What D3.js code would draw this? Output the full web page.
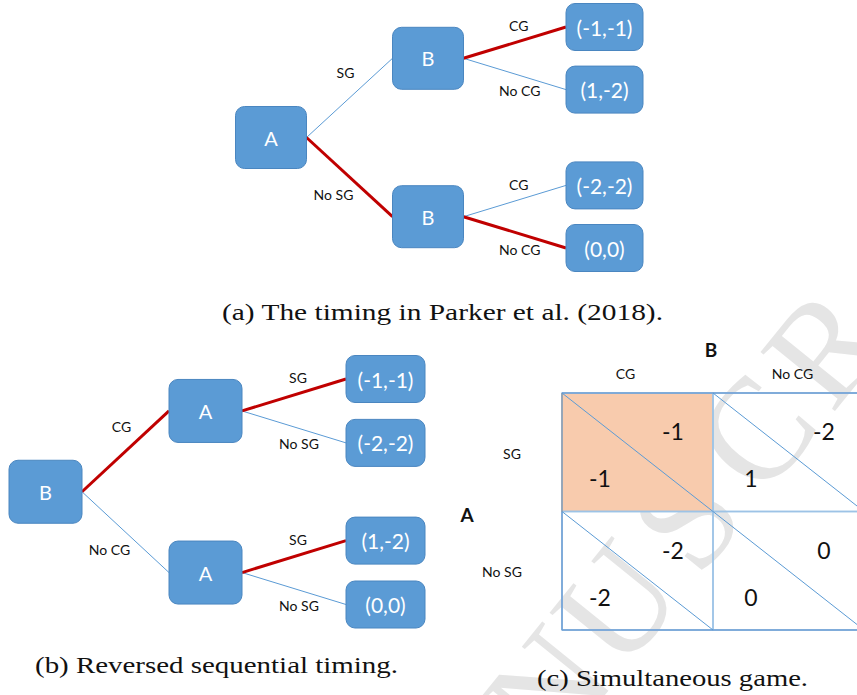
<!DOCTYPE html>
<html>
<head>
<meta charset="utf-8">
<script src="https://cdn.jsdelivr.net/npm/d3@7"></script>
<style>
  html, body { margin: 0; padding: 0; background: #fff; }
  svg { display: block; }
</style>
</head>
<body>
<svg id="chart" width="857" height="695"></svg>
<script>
// ---------- DATA ----------
// (a) Parker et al. timing: A moves first (SG / No SG), then B (CG / No CG)
const treeA_root = "A";
const treeA_mid = ["B", "B"];
const treeA_firstMoves = ["SG", "No SG"];
const treeA_secondMoves = ["CG", "No CG"];
const treeA_payoffs = [["(-1,-1)", "(1,-2)"], ["(-2,-2)", "(0,0)"]];
const treeA_firstChosen = [false, true];
const treeA_secondChosen = [[true, false], [false, true]];

// (b) Reversed sequential timing: B moves first (CG / No CG), then A (SG / No SG)
const treeB_root = "B";
const treeB_mid = ["A", "A"];
const treeB_firstMoves = ["CG", "No CG"];
const treeB_secondMoves = ["SG", "No SG"];
const treeB_payoffs = [["(-1,-1)", "(-2,-2)"], ["(1,-2)", "(0,0)"]];
const treeB_firstChosen = [true, false];
const treeB_secondChosen = [[true, false], [true, false]];

// (c) Simultaneous game
const rowPlayer = "A";
const colPlayer = "B";
const rowStrategies = ["SG", "No SG"];
const colStrategies = ["CG", "No CG"];
const payoffA = [[-1, 1], [-2, 0]];   // lower-left number in each cell
const payoffB = [[-1, -2], [-2, 0]];  // upper-right number in each cell
const equilibrium = [[true, false], [false, false]];

const captions = ["(a) The timing in Parker et al. (2018).", "(b) Reversed sequential timing.", "(c) Simultaneous game."];
const watermark = "ACCEPTED MANUSCRIPT";

// ---------- DRAW ----------
const svg = d3.select("#chart");
const NODE_FILL = "#5b9bd5", NODE_STROKE = "#4a86c0";
const BLUE = "#5b9bd5", RED = "#c00000";
const SANS = "Lato, 'Open Sans', sans-serif";
const SERIF = "'Liberation Serif', 'DejaVu Serif', serif";

// watermark (drawn first, behind); only the letters that fall on the page
const wm = svg.append("g").attr("class", "watermark");
{
  const letters = watermark.split("");
  const idxU = letters.indexOf("U", 10);
  const deg = -51;
  const ang = deg * Math.PI / 180;
  const step = 110;
  const ux = 615, uy = 602;
  letters.forEach((ch, i) => {
    if (ch === " ") return;
    const k = i - idxU;
    const cx = ux + Math.cos(ang) * step * k, cy = uy + Math.sin(ang) * step * k;
    if (cx < -20 || cx > 880 || cy < -20 || cy > 700) return;
    wm.append("text")
      .attr("transform", `translate(${cx},${cy}) rotate(${deg})`)
      .attr("text-anchor", "middle").attr("dy", "0.35em")
      .attr("font-family", SERIF).attr("font-size", 145)
      .attr("fill", "#e5e5e5")
      .text(ch);
  });
}

function drawTree(g, cfg) {
  const { root, mid, first, second, payoffs, firstChosen, secondChosen, xs, slotRange, yRange, sizes } = cfg;
  const gapSlots = 2.53;
  const y = d3.scaleLinear().domain(slotRange).range(yRange);
  const xd = d3.scaleLinear().domain([0, 1, 2]).range(xs);

  const leaves = [];
  payoffs.forEach((grp, gi) => grp.forEach((p, j) => {
    leaves.push({ label: p, gi, j, x: xd(2), y: y(gi * gapSlots + j) });
  }));
  const mids = mid.map((m, gi) => ({ label: m, gi, x: xd(1), y: d3.mean(leaves.filter(l => l.gi === gi), d => d.y) }));
  const rootN = { label: root, x: xd(0), y: d3.mean(mids, d => d.y) };

  const [rw, rh] = sizes.internal, [lw, lh] = sizes.leaf;

  const edges = [];
  mids.forEach((m, gi) => edges.push({ x1: rootN.x + rw / 2, y1: rootN.y, x2: m.x - rw / 2, y2: m.y, chosen: firstChosen[gi], label: first[gi], up: gi === 0, level: 1 }));
  leaves.forEach(l => {
    const m = mids[l.gi];
    edges.push({ x1: m.x + rw / 2, y1: m.y, x2: l.x - lw / 2, y2: l.y, chosen: secondChosen[l.gi][l.j], label: second[l.j], up: l.j === 0, level: 2 });
  });
  edges.sort((a, b) => a.chosen - b.chosen);
  g.selectAll("line.edge").data(edges).join("line")
    .attr("class", "edge")
    .attr("x1", d => d.x1).attr("y1", d => d.y1).attr("x2", d => d.x2).attr("y2", d => d.y2)
    .attr("stroke", d => d.chosen ? RED : BLUE)
    .attr("stroke-width", d => d.chosen ? 3 : 1);

  g.selectAll("text.elab").data(edges).join("text")
    .attr("class", "elab")
    .attr("x", d => {
      const mx = (d.x1 + d.x2) / 2;
      if (d.level === 1) return d.up ? mx - 4 : mx - 16;
      return d.up ? mx + 4 : mx + 5;
    })
    .attr("y", d => {
      const my = (d.y1 + d.y2) / 2;
      if (d.level === 1) return d.up ? my - 25 : my + 17;
      return d.up ? my - 17 : my + 17;
    })
    .attr("text-anchor", "middle").attr("dominant-baseline", "central")
    .attr("font-family", SANS).attr("font-size", 14).attr("fill", "#111")
    .text(d => d.label);

  const boxes = [
    { ...rootN, w: rw, h: rh, fs: 20 },
    ...mids.map(m => ({ ...m, w: rw, h: rh, fs: 20 })),
    ...leaves.map(l => ({ ...l, w: lw, h: lh, fs: 21 }))
  ];
  const nodeG = g.selectAll("g.node").data(boxes).join("g").attr("class", "node")
    .attr("transform", d => `translate(${d.x},${d.y})`);
  nodeG.append("rect")
    .attr("x", d => -d.w / 2).attr("y", d => -d.h / 2)
    .attr("width", d => d.w).attr("height", d => d.h)
    .attr("rx", 9).attr("ry", 9)
    .attr("fill", NODE_FILL).attr("stroke", NODE_STROKE).attr("stroke-width", 1);
  nodeG.append("text")
    .attr("text-anchor", "middle").attr("dominant-baseline", "central")
    .attr("font-family", SANS).attr("font-size", d => d.fs).attr("fill", "#fff")
    .text(d => d.label);
}

drawTree(svg.append("g"), {
  root: treeA_root, mid: treeA_mid, first: treeA_firstMoves, second: treeA_secondMoves,
  payoffs: treeA_payoffs, firstChosen: treeA_firstChosen, secondChosen: treeA_secondChosen,
  xs: [271, 428, 604.5], slotRange: [0, 3.53], yRange: [27, 248],
  sizes: { internal: [71, 62], leaf: [77, 47] }
});
drawTree(svg.append("g"), {
  root: treeB_root, mid: treeB_mid, first: treeB_firstMoves, second: treeB_secondMoves,
  payoffs: treeB_payoffs, firstChosen: treeB_firstChosen, secondChosen: treeB_secondChosen,
  xs: [45.5, 205.5, 385.5], slotRange: [0, 3.53], yRange: [379, 604.5],
  sizes: { internal: [73, 63], leaf: [79, 47] }
});

// ---------- (c) payoff matrix ----------
const mg = svg.append("g");
const cx = d3.scaleBand().domain(colStrategies).range([562, 864]);
const ry = d3.scaleBand().domain(rowStrategies).range([393, 630]);
const cells = [];
rowStrategies.forEach((r, i) => colStrategies.forEach((c, j) => cells.push({ r, c, i, j, a: payoffA[i][j], b: payoffB[i][j], eq: equilibrium[i][j] })));
mg.selectAll("rect.cell").data(cells).join("rect")
  .attr("class", "cell")
  .attr("x", d => cx(d.c)).attr("y", d => ry(d.r))
  .attr("width", cx.bandwidth()).attr("height", ry.bandwidth())
  .attr("fill", d => d.eq ? "#f8cbad" : "none")
  .attr("stroke", "#9dc3e6").attr("stroke-width", 1.5);
mg.append("line").attr("x1", 562).attr("x2", 864).attr("y1", 393).attr("y2", 393).attr("stroke", "#6f9fd4").attr("stroke-width", 1.5);
mg.append("line").attr("x1", 562).attr("x2", 864).attr("y1", 630).attr("y2", 630).attr("stroke", "#6f9fd4").attr("stroke-width", 1.5);
mg.append("line").attr("x1", 562).attr("x2", 562).attr("y1", 393).attr("y2", 512).attr("stroke", "#8c9aab").attr("stroke-width", 1.5);
mg.append("line").attr("x1", 562).attr("x2", 562).attr("y1", 512).attr("y2", 630).attr("stroke", "#6f9fd4").attr("stroke-width", 1.5);
mg.selectAll("line.diag").data(cells).join("line")
  .attr("class", "diag")
  .attr("x1", d => cx(d.c)).attr("y1", d => ry(d.r))
  .attr("x2", d => cx(d.c) + cx.bandwidth()).attr("y2", d => ry(d.r) + ry.bandwidth())
  .attr("stroke", "#5b9bd5").attr("stroke-width", 1);
mg.selectAll("text.pb").data(cells).join("text")
  .attr("class", "pb")
  .attr("x", d => cx(d.c) + 111).attr("y", d => ry(d.r) + 38)
  .attr("text-anchor", "middle").attr("dominant-baseline", "central")
  .attr("font-family", SANS).attr("font-size", 23).attr("fill", "#111")
  .text(d => d.b);
mg.selectAll("text.pa").data(cells).join("text")
  .attr("class", "pa")
  .attr("x", d => cx(d.c) + 38).attr("y", d => ry(d.r) + 85)
  .attr("text-anchor", "middle").attr("dominant-baseline", "central")
  .attr("font-family", SANS).attr("font-size", 23).attr("fill", "#111")
  .text(d => d.a);
mg.selectAll("text.col").data(colStrategies).join("text")
  .attr("x", (d, i) => cx(d) + cx.bandwidth() / 2 + (i === 0 ? -12 : 4)).attr("y", 373)
  .attr("text-anchor", "middle").attr("dominant-baseline", "central")
  .attr("font-family", SANS).attr("font-size", 14).attr("fill", "#111").text(d => d);
mg.selectAll("text.row").data(rowStrategies).join("text")
  .attr("x", (d, i) => i === 0 ? 512 : 502).attr("y", d => ry(d) + ry.bandwidth() / 2 + 1)
  .attr("text-anchor", "middle").attr("dominant-baseline", "central")
  .attr("font-family", SANS).attr("font-size", 14).attr("fill", "#111").text(d => d);
mg.append("text").attr("x", 711).attr("y", 349).attr("text-anchor", "middle").attr("dominant-baseline", "central")
  .attr("font-family", SANS).attr("font-weight", "bold").attr("font-size", 19).attr("fill", "#111").text(colPlayer);
mg.append("text").attr("x", 467).attr("y", 514).attr("text-anchor", "middle").attr("dominant-baseline", "central")
  .attr("font-family", SANS).attr("font-weight", "bold").attr("font-size", 19).attr("fill", "#111").text(rowPlayer);

// ---------- captions ----------
const capPos = [[222, 320, 441], [35, 673, 363], [537, 686, 271]];
svg.selectAll("text.cap").data(captions).join("text")
  .attr("class", "cap")
  .attr("x", (d, i) => capPos[i][0]).attr("y", (d, i) => capPos[i][1])
  .attr("textLength", (d, i) => capPos[i][2]).attr("lengthAdjust", "spacingAndGlyphs")
  .attr("font-family", SERIF).attr("font-size", 24).attr("fill", "#111")
  .text(d => d);
</script>
</body>
</html>
